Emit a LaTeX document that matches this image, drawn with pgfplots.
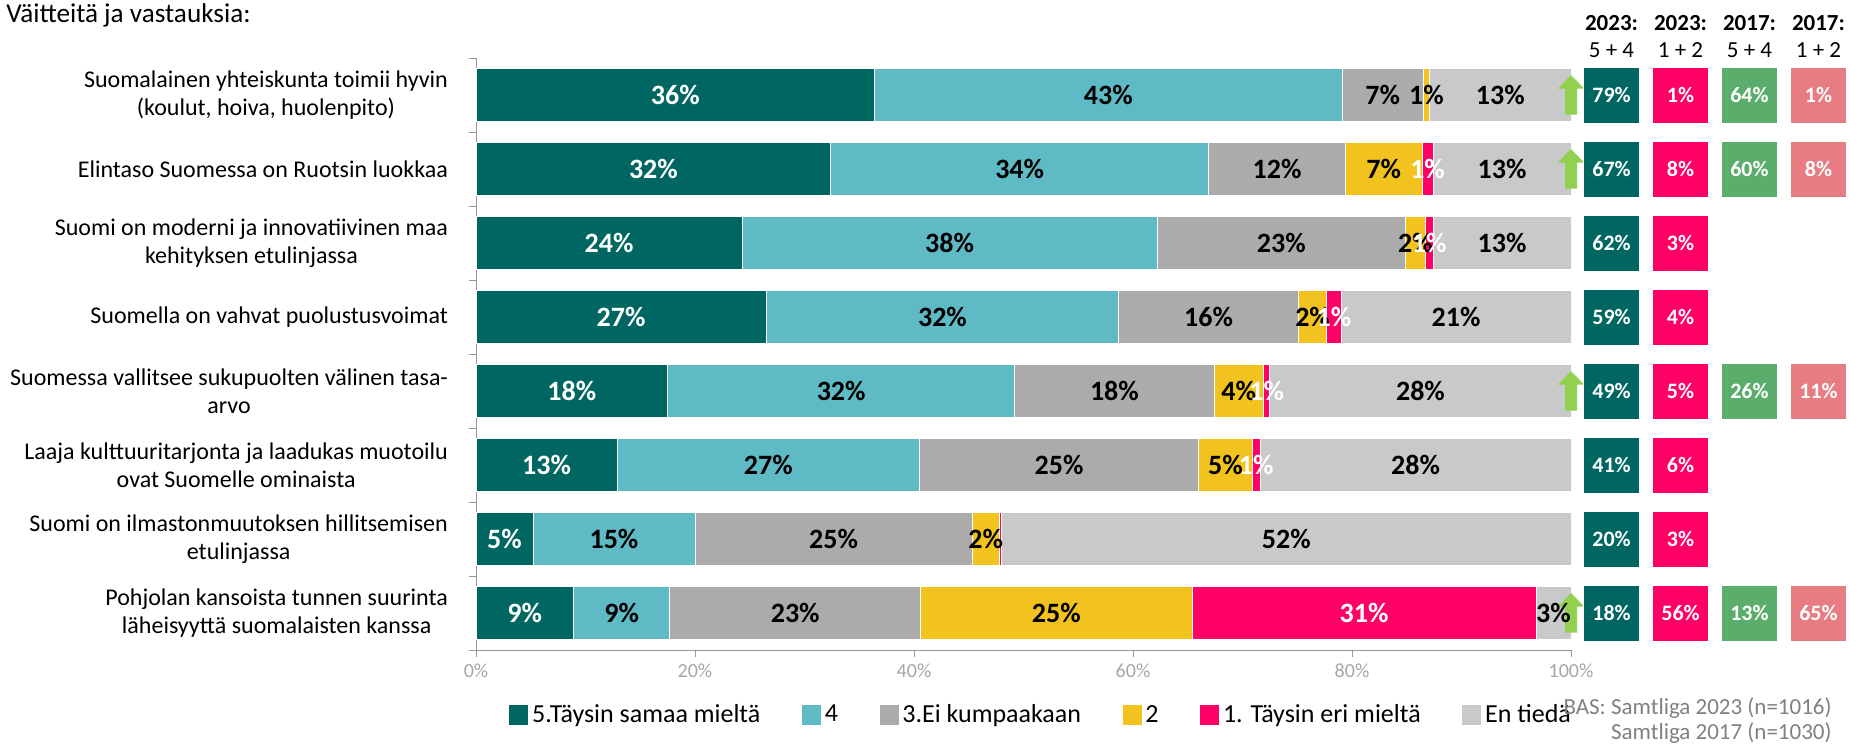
\documentclass[border=0pt]{standalone}
\usepackage{pgfplots}
\pgfplotsset{compat=1.18}
\usepackage{pgfplotstable}
\usepackage{fontspec}
\setmainfont{Carlito}

\definecolor{c5}{RGB}{0,102,97}
\definecolor{c4}{RGB}{94,186,196}
\definecolor{c3}{RGB}{171,171,171}
\definecolor{c2}{RGB}{242,195,30}
\definecolor{c1}{RGB}{255,0,102}
\definecolor{c0}{RGB}{201,201,201}
\definecolor{g17}{RGB}{91,173,108}
\definecolor{r17}{RGB}{232,124,131}
\definecolor{arr}{RGB}{146,208,80}
\definecolor{axgray}{RGB}{150,150,150}
\definecolor{tickgray}{RGB}{166,166,166}
\definecolor{notegray}{RGB}{128,128,128}

% green up arrow used as a plot mark
\pgfdeclareplotmark{uparrow}{%
  \pgfpathmoveto{\pgfpoint{0pt}{10pt}}%
  \pgfpathlineto{\pgfpoint{6.6pt}{3.2pt}}%
  \pgfpathlineto{\pgfpoint{3pt}{3.2pt}}%
  \pgfpathlineto{\pgfpoint{3pt}{-9.75pt}}%
  \pgfpathlineto{\pgfpoint{-3pt}{-9.75pt}}%
  \pgfpathlineto{\pgfpoint{-3pt}{3.2pt}}%
  \pgfpathlineto{\pgfpoint{-6.6pt}{3.2pt}}%
  \pgfpathclose
  \pgfusepathqfill}

% shares per statement (row 0 = top), labels as printed
\pgfplotstableread{
row t5   t4   t3   t2   t1   t0   l5    l4    l3    l2    l1    l0
0   36.4 42.7 7.4  0.6  0    12.9 36\%  43\%  7\%   1\%   {}    13\%
1   32.4 34.5 12.5 7.0  1.0  12.6 32\%  34\%  12\%  7\%   1\%   13\%
2   24.3 37.9 22.7 1.8  0.7  12.6 24\%  38\%  23\%  2\%   1\%   13\%
3   26.5 32.2 16.4 2.6  1.3  21.0 27\%  32\%  16\%  2\%   1\%   21\%
4   17.5 31.7 18.2 4.5  0.6  27.5 18\%  32\%  18\%  4\%   1\%   28\%
5   12.9 27.6 25.5 4.9  0.7  28.4 13\%  27\%  25\%  5\%   1\%   28\%
6   5.2  14.8 25.3 2.5  0.2  52.0 5\%   15\%  25\%  2\%   {}    52\%
7   8.9  8.8  22.9 24.8 31.4 3.2  9\%   9\%   23\%  25\%  31\%  3\%
}\answers

\pgfplotsset{
  seg/.style={fill=#1, draw=white, line width=0.4pt,
    legend image code/.code={\fill[#1] (0pt,-4.5pt) rectangle (9pt,5pt);}},
  seglabel/.style={draw=none, mark=none, nodes near coords,
    every node near coord/.append style={text=#1,
      font=\bfseries\fontsize{14}{16}\selectfont}},
}

\begin{document}
\begin{tikzpicture}
\path[use as bounding box] (0pt,0pt) rectangle (934pt,-372pt);

\node[anchor=base west, inner sep=0pt, font=\fontsize{13.6}{15}\selectfont]
  at (3pt,-11.3pt) {Väitteitä ja vastauksia:};

\begin{axis}[
  at={(238pt,-325pt)}, anchor=south west,
  scale only axis, width=547.5pt, height=296pt,
  xbar stacked, bar width=0.71,
  xmin=0, xmax=100, ymin=-0.5, ymax=7.5, y dir=reverse,
  axis x line*=bottom, axis y line*=left,
  axis line style={axgray},
  xtick={0,20,...,100},
  xticklabels={0\%,20\%,40\%,60\%,80\%,100\%},
  xticklabel style={text=tickgray, font=\fontsize{10}{12}\selectfont},
  tick align=outside, major tick length=3.5pt, minor tick length=3.5pt,
  x tick style={axgray},
  ytick={0,...,7}, minor ytick={-0.5,0.5,...,7.5},
  major y tick style={draw=none}, minor y tick style={axgray},
  yticklabels={
    {Suomalainen yhteiskunta toimii hyvin\\(koulut, hoiva, huolenpito)},
    {Elintaso Suomessa on Ruotsin luokkaa},
    {Suomi on moderni ja innovatiivinen maa\\kehityksen etulinjassa},
    {Suomella on vahvat puolustusvoimat},
    {Suomessa vallitsee sukupuolten välinen tasa-\\arvo},
    {Laaja kulttuuritarjonta ja laadukas muotoilu\\ovat Suomelle ominaista},
    {Suomi on ilmastonmuutoksen hillitsemisen\\etulinjassa},
    {Pohjolan kansoista tunnen suurinta\\läheisyyttä suomalaisten kanssa}},
  yticklabel style={align=center, font=\fontsize{12}{14}\selectfont, xshift=-7pt},
  legend columns=6,
  legend style={at={(0.517,-0.11)}, anchor=center, draw=none,
    font=\fontsize{13}{15}\selectfont,
    /tikz/every even column/.append style={column sep=18.8pt},
    /tikz/every odd column/.append style={column sep=0pt}},
]
\addplot[seg=c5] table[x=t5, y=row] {\answers};
\addlegendentry{5.Täysin samaa mieltä}
\addplot[seg=c4] table[x=t4, y=row] {\answers};
\addlegendentry{4}
\addplot[seg=c3] table[x=t3, y=row] {\answers};
\addlegendentry{3.Ei kumpaakaan}
\addplot[seg=c2] table[x=t2, y=row] {\answers};
\addlegendentry{2}
\addplot[seg=c1] table[x=t1, y=row] {\answers};
\addlegendentry{1. Täysin eri mieltä}
\addplot[seg=c0] table[x=t0, y=row] {\answers};
\addlegendentry{En tiedä}
\end{axis}

% segment labels, summary boxes and arrows, same frame as the bars
\begin{axis}[
  at={(238pt,-325pt)}, anchor=south west,
  scale only axis, width=547.5pt, height=296pt,
  xmin=0, xmax=100, ymin=-0.5, ymax=7.5, y dir=reverse,
  hide axis, clip=false,
  point meta=explicit symbolic,
  nodes near coords={\pgfplotspointmeta},
  nodes near coords align=center,
  every node near coord/.append style={text=white,
    font=\bfseries\fontsize{11}{13}\selectfont},
]
\addplot[only marks, mark=uparrow, color=arr, nodes near coords={}]
  coordinates {(100,0) (100,1) (100,4) (100,7)};

\addplot[seglabel=white] table[x expr=\thisrow{t5}/2, y=row, meta=l5] {\answers};
\addplot[seglabel=black] table[x expr=\thisrow{t5}+\thisrow{t4}/2, y=row, meta=l4] {\answers};
\addplot[seglabel=black] table[x expr=\thisrow{t5}+\thisrow{t4}+\thisrow{t3}/2,
  y=row, meta=l3] {\answers};
\addplot[seglabel=black] table[x expr=\thisrow{t5}+\thisrow{t4}+\thisrow{t3}+\thisrow{t2}/2,
  y=row, meta=l2] {\answers};
\addplot[seglabel=white] table[x expr=\thisrow{t5}+\thisrow{t4}+\thisrow{t3}+\thisrow{t2}+\thisrow{t1}/2,
  y=row, meta=l1] {\answers};
\addplot[seglabel=black] table[x expr=100-\thisrow{t0}/2, y=row, meta=l0] {\answers};

\addplot[only marks, mark=square*, mark size=14.1pt, color=c5,
  mark options={draw=white, line width=0.3pt}] coordinates {
  (103.7,0) [79\%] (103.7,1) [67\%] (103.7,2) [62\%] (103.7,3) [59\%]
  (103.7,4) [49\%] (103.7,5) [41\%] (103.7,6) [20\%] (103.7,7) [18\%]};
\addplot[only marks, mark=square*, mark size=14.1pt, color=c1,
  mark options={draw=white, line width=0.3pt}] coordinates {
  (110.0,0) [1\%] (110.0,1) [8\%] (110.0,2) [3\%] (110.0,3) [4\%]
  (110.0,4) [5\%] (110.0,5) [6\%] (110.0,6) [3\%] (110.0,7) [56\%]};
\addplot[only marks, mark=square*, mark size=14.1pt, color=g17,
  mark options={draw=white, line width=0.3pt}] coordinates {
  (116.3,0) [64\%] (116.3,1) [60\%] (116.3,4) [26\%] (116.3,7) [13\%]};
\addplot[only marks, mark=square*, mark size=14.1pt, color=r17,
  mark options={draw=white, line width=0.3pt}] coordinates {
  (122.6,0) [1\%] (122.6,1) [8\%] (122.6,4) [11\%] (122.6,7) [65\%]};

\node[font=\bfseries\fontsize{11.5}{13}\selectfont] at (axis cs:103.7,-0.973) {2023:};
\node[font=\fontsize{11.5}{13}\selectfont] at (axis cs:103.7,-0.608) {5 + 4};
\node[font=\bfseries\fontsize{11.5}{13}\selectfont] at (axis cs:110.0,-0.973) {2023:};
\node[font=\fontsize{11.5}{13}\selectfont] at (axis cs:110.0,-0.608) {1 + 2};
\node[font=\bfseries\fontsize{11.5}{13}\selectfont] at (axis cs:116.3,-0.973) {2017:};
\node[font=\fontsize{11.5}{13}\selectfont] at (axis cs:116.3,-0.608) {5 + 4};
\node[font=\bfseries\fontsize{11.5}{13}\selectfont] at (axis cs:122.6,-0.973) {2017:};
\node[font=\fontsize{11.5}{13}\selectfont] at (axis cs:122.6,-0.608) {1 + 2};
\end{axis}

\node[anchor=base east, inner sep=0pt, text=notegray, font=\fontsize{11.5}{13}\selectfont]
  at (916pt,-357.3pt) {BAS: Samtliga 2023 (n=1016)};
\node[anchor=base east, inner sep=0pt, text=notegray, font=\fontsize{11.5}{13}\selectfont]
  at (916pt,-369.5pt) {Samtliga 2017 (n=1030)};
\end{tikzpicture}
\end{document}
